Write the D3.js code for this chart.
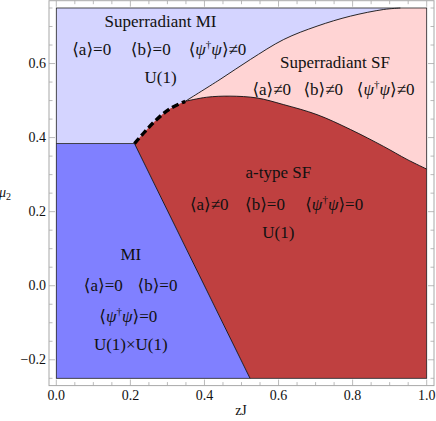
<!DOCTYPE html>
<html><head><meta charset="utf-8">
<script src="https://cdn.jsdelivr.net/npm/d3@7"></script>
<style>
html,body{margin:0;padding:0;background:#fff;}
svg{display:block;}
text{font-family:"Liberation Serif","Times New Roman","DejaVu Serif",serif;fill:#111;white-space:pre;}
</style></head>
<body><svg id="c" width="436" height="421"></svg>
<script>
// ---- data ----
const xDomain = [0, 1];
const yDomain = [-0.25, 0.75];
const xMajorTicks = [0, 0.2, 0.4, 0.6, 0.8, 1.0];
const yMajorTicks = [-0.2, 0, 0.2, 0.4, 0.6];
const minorStep = 0.05;
// Mott insulator boundary: horizontal line then slanted line
const miTop = [[0, 0.384], [0.211, 0.384]];
const miSlant = [[0.211, 0.384], [0.523, -0.25]];
// thick dashed boundary
const dashedCurve = [[0.211, 0.384], [0.240, 0.417], [0.271, 0.449], [0.307, 0.478], [0.348, 0.498]];
// upper boundary of a-type SF
const redTop = [[0.348, 0.498], [0.406, 0.509], [0.469, 0.512], [0.542, 0.507], [0.614, 0.489],
                [0.704, 0.462], [0.794, 0.422], [0.884, 0.376], [0.947, 0.341], [1.0, 0.315]];
// boundary superradiant MI / superradiant SF
const srBoundary = [[0.348, 0.498], [0.442, 0.557], [0.524, 0.611], [0.614, 0.665], [0.704, 0.701],
                    [0.794, 0.728], [0.884, 0.746], [0.929, 0.75]];

const colors = {srMI: "#d4d4ff", srSF: "#ffd4d4", aSF: "#bf4040", mi: "#8080ff"};

const labels = [
  {x: 160.5, y: 27.3, segs: [["Superradiant MI"]]},
  {x: 91.7, y: 55, segs: [["⟨a⟩=0"]]},
  {x: 150.8, y: 55, segs: [["⟨b⟩=0"]]},
  {x: 217.5, y: 55, segs: [["⟨"], ["ψ", "i"], ["†", "s"], ["ψ", "i"], ["⟩≠0"]]},
  {x: 160.5, y: 82.7, segs: [["U(1)"]]},
  {x: 335, y: 68.3, segs: [["Superradiant SF"]]},
  {x: 271.7, y: 95, segs: [["⟨a⟩≠0"]]},
  {x: 323.3, y: 95, segs: [["⟨b⟩≠0"]]},
  {x: 385.7, y: 95, segs: [["⟨"], ["ψ", "i"], ["†", "s"], ["ψ", "i"], ["⟩≠0"]]},
  {x: 278.3, y: 178.3, segs: [["a-type SF"]]},
  {x: 209.2, y: 210, segs: [["⟨a⟩≠0"]]},
  {x: 265, y: 210, segs: [["⟨b⟩=0"]]},
  {x: 334.2, y: 210, segs: [["⟨"], ["ψ", "i"], ["†", "s"], ["ψ", "i"], ["⟩=0"]]},
  {x: 278.3, y: 238.3, segs: [["U(1)"]]},
  {x: 130.8, y: 260, segs: [["MI"]]},
  {x: 103.3, y: 291, segs: [["⟨a⟩=0"]]},
  {x: 157.5, y: 291, segs: [["⟨b⟩=0"]]},
  {x: 128.3, y: 322.3, segs: [["⟨"], ["ψ", "i"], ["†", "s"], ["ψ", "i"], ["⟩=0"]]},
  {x: 130.8, y: 350, segs: [["U(1)×U(1)"]]}
];

// ---- layout ----
const svg = d3.select("#c");
const x = d3.scaleLinear().domain(xDomain).range([56.3, 426.7]);
const y = d3.scaleLinear().domain(yDomain).range([378.3, 8]);
const pad = 7.3;
const fx0 = x.range()[0] - pad, fx1 = x.range()[1] + pad;
const fy0 = y.range()[1] - pad, fy1 = y.range()[0] + pad;

const lineLin = d3.line().x(d => x(d[0])).y(d => y(d[1]));
const lineSm = d3.line().x(d => x(d[0])).y(d => y(d[1])).curve(d3.curveCatmullRom.alpha(0.5));

function smoothPts(pts) {
  const tmp = svg.append("path").attr("d", lineSm(pts));
  const node = tmp.node(), L = node.getTotalLength(), out = [];
  for (let i = 0; i <= 80; i++) { const p = node.getPointAtLength(L * i / 80); out.push([p.x, p.y]); }
  tmp.remove();
  return out;
}
const pxPts = pts => pts.map(d => [x(d[0]), y(d[1])]);

const gReg = svg.append("g");
gReg.append("rect").attr("x", x(0)).attr("y", y(0.75)).attr("width", x(1) - x(0)).attr("height", y(-0.25) - y(0.75))
  .attr("fill", colors.srMI);

const srPx = smoothPts(srBoundary);
const redPx = smoothPts(redTop);
const dashPx = smoothPts(dashedCurve);

const pinkPoly = srPx.concat([[x(1), y(0.75)]]).concat(redPx.slice().reverse());
gReg.append("path").attr("d", "M" + pinkPoly.join("L") + "Z").attr("fill", colors.srSF);

const redPoly = dashPx.concat(redPx).concat([[x(1), y(-0.25)], [x(miSlant[1][0]), y(miSlant[1][1])]]);
gReg.append("path").attr("d", "M" + redPoly.join("L") + "Z").attr("fill", colors.aSF);

const miPoly = pxPts([[0, -0.25]].concat(miTop).concat([miSlant[1]]));
gReg.append("path").attr("d", "M" + miPoly.join("L") + "Z").attr("fill", colors.mi);

const gB = svg.append("g").attr("fill", "none");
gB.append("path").attr("d", lineLin(miTop)).attr("stroke", "#333").attr("stroke-width", 0.9);
gB.append("path").attr("d", lineLin(miSlant)).attr("stroke", "#111").attr("stroke-width", 0.9);
gB.append("path").attr("d", lineSm(redTop)).attr("stroke", "#111").attr("stroke-width", 0.9);
gB.append("path").attr("d", lineSm(srBoundary)).attr("stroke", "#111").attr("stroke-width", 0.9);
gB.append("path").attr("d", lineSm(dashedCurve)).attr("stroke", "#000").attr("stroke-width", 3.4)
  .attr("stroke-dasharray", "7,3.5");

svg.append("rect").attr("x", x(0)).attr("y", y(0.75)).attr("width", x(1) - x(0)).attr("height", y(-0.25) - y(0.75))
  .attr("fill", "none").attr("stroke", "#222").attr("stroke-width", 0.8);

const frameColor = "#a8a8a8";
svg.append("rect").attr("x", fx0).attr("y", fy0).attr("width", fx1 - fx0).attr("height", fy1 - fy0)
  .attr("fill", "none").attr("stroke", frameColor).attr("stroke-width", 1);

const gT = svg.append("g").attr("stroke", frameColor).attr("stroke-width", 0.8);
const xMinor = d3.range(0, 1.0001, minorStep);
const yMinor = d3.range(-0.25, 0.7501, minorStep);
const isMajor = (v, arr) => arr.some(m => Math.abs(m - v) < 1e-6);
xMinor.forEach(v => {
  const L = isMajor(v, xMajorTicks) ? 6 : 3.5;
  gT.append("line").attr("x1", x(v)).attr("x2", x(v)).attr("y1", fy1).attr("y2", fy1 - L);
  gT.append("line").attr("x1", x(v)).attr("x2", x(v)).attr("y1", fy0).attr("y2", fy0 + L);
});
yMinor.forEach(v => {
  const L = isMajor(v, yMajorTicks) ? 6 : 3.5;
  gT.append("line").attr("y1", y(v)).attr("y2", y(v)).attr("x1", fx0).attr("x2", fx0 + L);
  gT.append("line").attr("y1", y(v)).attr("y2", y(v)).attr("x1", fx1).attr("x2", fx1 - L);
});
const fmt = d3.format(".1f");
const fmtMinus = v => fmt(v).replace("-", "\u2212");
svg.append("g").selectAll("text").data(xMajorTicks).join("text")
  .attr("x", d => x(d)).attr("y", 399.5).attr("text-anchor", "middle").attr("font-size", 14).text(fmtMinus);
svg.append("g").selectAll("text").data(yMajorTicks).join("text")
  .attr("x", 46).attr("y", d => y(d) + 4.6).attr("text-anchor", "end").attr("font-size", 14).text(fmtMinus);

svg.append("text").attr("x", 241).attr("y", 415).attr("text-anchor", "middle").attr("font-size", 14).text("zJ");
const mu = svg.append("text").attr("x", -1).attr("y", 197).attr("font-size", 14);
mu.append("tspan").attr("font-style", "italic").text("μ");
mu.append("tspan").attr("font-size", 10).attr("dy", 3).text("2");

const gL = svg.append("g").attr("font-size", 17);
labels.forEach(l => {
  const t = gL.append("text").attr("x", l.x).attr("y", l.y).attr("text-anchor", "middle");
  let shifted = false;
  l.segs.forEach(s => {
    const ts = t.append("tspan").text(s[0]);
    if (s[1] === "i") ts.attr("font-style", "italic");
    if (s[1] === "s") { ts.attr("font-size", 11).attr("dy", -7); shifted = true; }
    else if (shifted) { ts.attr("dy", 7); shifted = false; }
  });
});
</script></body></html>
